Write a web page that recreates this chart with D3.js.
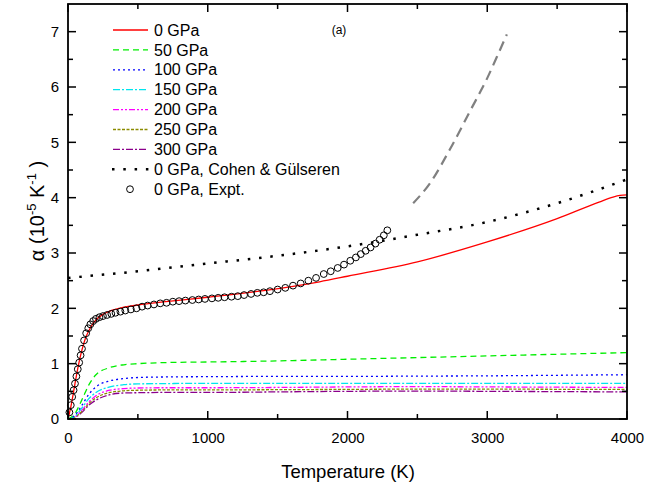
<!DOCTYPE html>
<html><head><meta charset="utf-8">
<script src="https://cdn.jsdelivr.net/npm/d3@7"></script>
<style>body{margin:0;background:#fff}svg{display:block}text{font-family:"Liberation Sans",Arial,sans-serif}</style>
</head><body><svg id="c" width="669" height="493"></svg>
<script>
// ---- data ----
const legendLabels = ["0 GPa","50 GPa","100 GPa","150 GPa","200 GPa","250 GPa","300 GPa","0 GPa, Cohen & Gülseren","0 GPa, Expt."];
const xTicks = [0,1000,2000,3000,4000];
const yTicks = [0,1,2,3,4,5,6,7];

const tRed = [0,25,50,75,100,125,150,175,200,250,300,400,500,700,1000,1400,1800,2000,2500,3000,3500,3800,3900,3950,4000];
const vRed = [0,0.28,0.64,0.98,1.25,1.46,1.6,1.71,1.79,1.89,1.95,2.02,2.06,2.12,2.2,2.32,2.48,2.58,2.84,3.2,3.62,3.92,4.01,4.04,4.05];

const tP = [0,50,100,150,200,300,400,500,700,1000,1500,2000,2500,3000,3500,4000];
const v50  = [0,0.1,0.35,0.62,0.8,0.93,0.98,1.0,1.02,1.03,1.05,1.08,1.11,1.14,1.17,1.2];
const v100 = [0,0.07,0.25,0.45,0.58,0.69,0.73,0.75,0.76,0.765,0.77,0.77,0.775,0.78,0.79,0.8];
const v150 = [0,0.05,0.2,0.37,0.48,0.58,0.62,0.635,0.64,0.645,0.645,0.645,0.645,0.645,0.645,0.645];
const v200 = [0,0.04,0.16,0.31,0.42,0.52,0.55,0.56,0.565,0.565,0.57,0.58,0.585,0.58,0.575,0.57];
const v250 = [0,0.035,0.14,0.28,0.38,0.48,0.51,0.52,0.525,0.525,0.53,0.535,0.54,0.54,0.537,0.535];
const v300 = [0,0.03,0.12,0.25,0.34,0.44,0.47,0.475,0.48,0.48,0.49,0.5,0.505,0.5,0.495,0.49];

const tCohen = [0,500,1000,1500,2000,2500,3000,3500,4000];
const vCohen = [2.55,2.67,2.81,2.95,3.12,3.33,3.56,3.9,4.33];

const tGray = [2470,2590,2730,2880,3000,3070,3140];
const vGray = [3.9,4.26,4.86,5.58,6.16,6.55,6.95];

const tExpt = [10,20,30,40,50,60,70,80,90,100,115,130,145,160,180,200,225,250,280,310,340,375,410,450,490,530,570,615,660,705,750,795,840,890,935,980,1030,1075,1120,1170,1215,1260,1310,1355,1400,1445,1500,1555,1610,1665,1720,1775,1830,1880,1930,1975,2020,2060,2095,2130,2165,2200,2230,2260,2285];
const vExpt = [0.12,0.25,0.4,0.52,0.64,0.77,0.9,1.02,1.15,1.27,1.42,1.55,1.64,1.71,1.77,1.81,1.84,1.86,1.88,1.9,1.92,1.94,1.96,1.98,2.0,2.03,2.05,2.07,2.09,2.1,2.12,2.13,2.14,2.15,2.16,2.17,2.18,2.19,2.2,2.21,2.22,2.24,2.26,2.28,2.29,2.31,2.34,2.37,2.41,2.45,2.5,2.55,2.62,2.67,2.73,2.79,2.86,2.92,2.98,3.04,3.1,3.17,3.24,3.32,3.41];

// ---- chart ----
const svg = d3.select("#c");
const L=68,R=627,T=4,B=419;
const x = d3.scaleLinear().domain([0,4000]).range([L,R]);
const y = d3.scaleLinear().domain([0,7.5]).range([B,T]);
const zip=(a,b)=>a.map((t,i)=>[t,b[i]]);
const line = d3.line().x(d=>x(d[0])).y(d=>y(d[1])).curve(d3.curveMonotoneX);

const series = [
  {d:zip(tRed,vRed), c:"#ff0000", dash:null, w:1.3},
  {d:zip(tP,v50), c:"#00ee00", dash:"6,4", w:1.3},
  {d:zip(tP,v100), c:"#0000ff", dash:"2,3", w:1.3},
  {d:zip(tP,v150), c:"#00e5ee", dash:"7,2,2,2", w:1.3},
  {d:zip(tP,v200), c:"#ff00ff", dash:"6,2,2,2,2,2", w:1.3},
  {d:zip(tP,v250), c:"#8b8b00", dash:"3,1.5", w:1.3},
  {d:zip(tP,v300), c:"#8b008b", dash:"7,2,2,2", w:1.3},
];
const g = svg.append("g");
series.slice().reverse().forEach(s=>{
  g.append("path").attr("d",line(s.d)).attr("fill","none").attr("stroke",s.c)
   .attr("stroke-width",s.w).attr("stroke-dasharray",s.dash);
});
g.append("path").attr("d",line(zip(tCohen,vCohen))).attr("fill","none").attr("stroke","#000")
  .attr("stroke-width",2.5).attr("stroke-dasharray","2.5,8.8");
g.append("path").attr("d",line(zip(tGray,vGray))).attr("fill","none").attr("stroke","#808080")
  .attr("stroke-width",2.2).attr("stroke-dasharray","10,6");
g.selectAll("circle.e").data(zip(tExpt,vExpt)).enter().append("circle")
  .attr("cx",d=>x(d[0])).attr("cy",d=>y(d[1])).attr("r",3.4)
  .attr("fill","none").attr("stroke","#000").attr("stroke-width",1);

// axes
const fs = 15;
const xMinor = d3.range(500,4000,1000);
const yMinor = d3.range(0.5,7.5,1);
function frame(){
  const a = svg.append("g");
  xTicks.forEach(v=>{ a.append("line").attr("x1",x(v)).attr("x2",x(v)).attr("y1",B).attr("y2",B-8);
                      a.append("line").attr("x1",x(v)).attr("x2",x(v)).attr("y1",T).attr("y2",T+8);});
  xMinor.forEach(v=>{ a.append("line").attr("x1",x(v)).attr("x2",x(v)).attr("y1",B).attr("y2",B-5);
                      a.append("line").attr("x1",x(v)).attr("x2",x(v)).attr("y1",T).attr("y2",T+5);});
  yTicks.forEach(v=>{ a.append("line").attr("x1",L).attr("x2",L+8).attr("y1",y(v)).attr("y2",y(v));
                      a.append("line").attr("x1",R).attr("x2",R-8).attr("y1",y(v)).attr("y2",y(v));});
  yMinor.forEach(v=>{ a.append("line").attr("x1",L).attr("x2",L+5).attr("y1",y(v)).attr("y2",y(v));
                      a.append("line").attr("x1",R).attr("x2",R-5).attr("y1",y(v)).attr("y2",y(v));});
  a.selectAll("line").attr("stroke","#000").attr("stroke-width",1.5);
  a.append("rect").attr("x",L).attr("y",T).attr("width",R-L).attr("height",B-T)
   .attr("fill","none").attr("stroke","#000").attr("stroke-width",1.8);
  const xa = svg.append("g").attr("transform",`translate(0,${B})`)
    .call(d3.axisBottom(x).tickValues(xTicks).tickSize(0).tickPadding(13).tickFormat(d3.format("d")));
  const ya = svg.append("g").attr("transform",`translate(${L},0)`)
    .call(d3.axisLeft(y).tickValues(yTicks).tickSize(0).tickPadding(9).tickFormat(d3.format("d")));
  [xa,ya].forEach(s=>{ s.select(".domain").remove();
    s.selectAll("text").attr("font-size",fs).attr("font-family","Liberation Sans, Arial, sans-serif").attr("fill","#000");});
}
frame();

// axis titles
svg.append("text").attr("x",348).attr("y",478).attr("text-anchor","middle")
  .attr("font-size",18.5).text("Temperature (K)");
const yt = svg.append("text").attr("transform","translate(44,211) rotate(-90)").attr("text-anchor","middle").attr("font-size",20);
yt.append("tspan").text("α (10");
yt.append("tspan").attr("dy",-8).attr("font-size",13).text("-5");
yt.append("tspan").attr("dy",8).text(" K");
yt.append("tspan").attr("dy",-8).attr("font-size",13).text("-1");
yt.append("tspan").attr("dy",8).text(" )");

svg.append("text").attr("x",339).attr("y",34).attr("text-anchor","middle").attr("font-size",12).text("(a)");

// legend
const lg = svg.append("g");
const ly0 = 30, ldy = 19.9;
legendLabels.forEach((lab,i)=>{
  const yy = ly0 + i*ldy;
  if(i<7){
    const s = series[i];
    lg.append("line").attr("x1",113).attr("x2",148).attr("y1",yy).attr("y2",yy)
      .attr("stroke",s.c).attr("stroke-width",s.w).attr("stroke-dasharray",s.dash);
  } else if(i===7){
    lg.append("line").attr("x1",112).attr("x2",150).attr("y1",yy).attr("y2",yy)
      .attr("stroke","#000").attr("stroke-width",2.5).attr("stroke-dasharray","2.5,8.8");
  } else {
    lg.append("circle").attr("cx",130).attr("cy",yy).attr("r",3.4).attr("fill","none").attr("stroke","#000");
  }
  lg.append("text").attr("x",154).attr("y",yy+5.6).attr("font-size",16).text(lab);
});
</script></body></html>
